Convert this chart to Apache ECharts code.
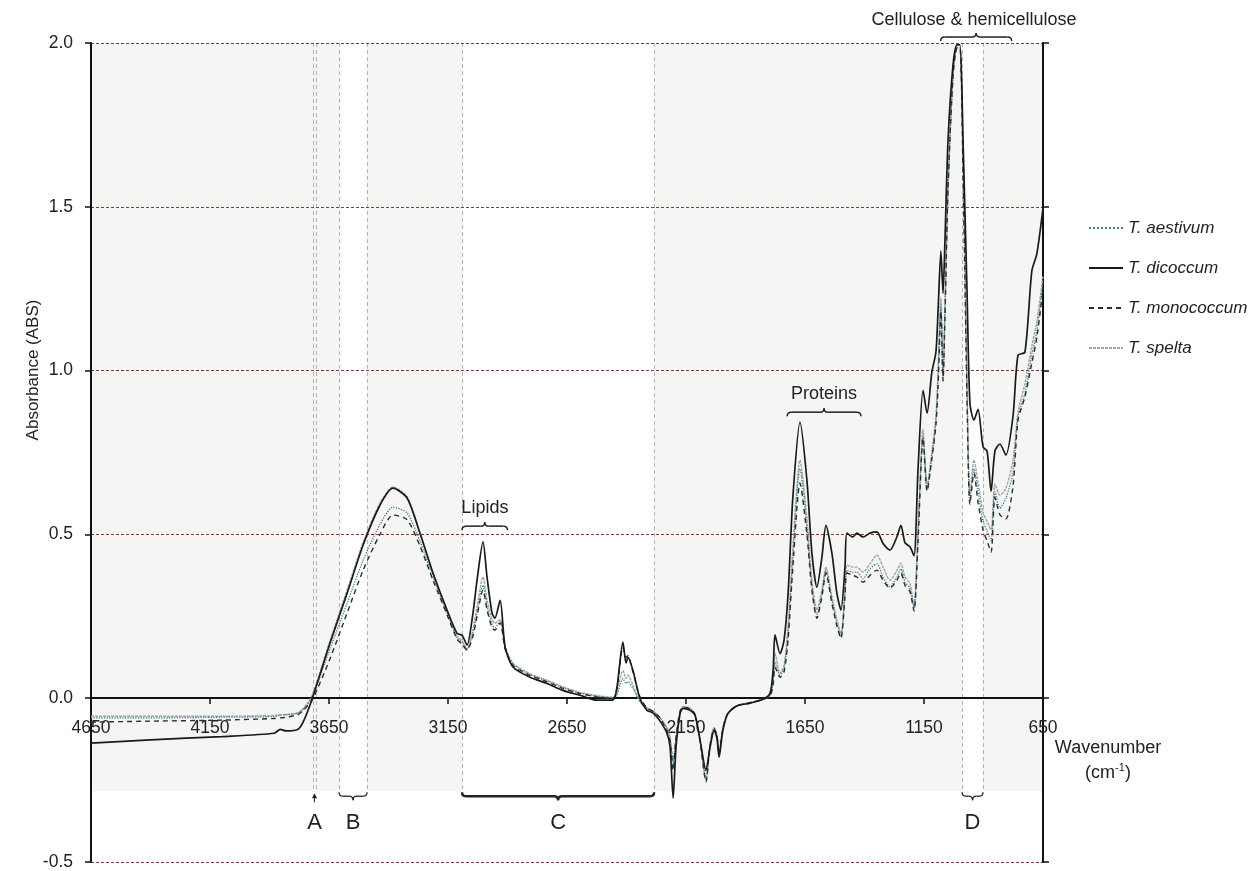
<!DOCTYPE html>
<html><head><meta charset="utf-8">
<script src="https://cdn.jsdelivr.net/npm/echarts@6/dist/echarts.min.js"></script>
<style>html,body{margin:0;padding:0;background:#fff}#c{width:1260px;height:871px}</style>
</head><body><div id="c"></div>
<script>
const wavenumbers = [4650,4400,4100,3880,3855,3830,3780,3755,3720,3646,3574,3507,3436,3381,3322,3268,3213,3154,3112,3091,3070,3045,3028,3003,2986,2965,2953,2931,2910,2877,2806,2734,2667,2596,2524,2457,2440,2415,2402,2394,2373,2344,2314,2289,2259,2230,2217,2204,2192,2175,2162,2133,2112,2091,2066,2049,2032,2020,2011,1995,1974,1936,1881,1827,1797,1784,1776,1755,1738,1721,1701,1671,1642,1621,1600,1579,1562,1537,1516,1499,1482,1474,1449,1432,1406,1377,1348,1322,1293,1264,1247,1230,1209,1192,1175,1154,1137,1117,1100,1091,1079,1070,1062,1049,1028,1011,999,986,969,957,940,923,902,885,868,852,831,806,776,755,726,697,676,650];
const dicoccum = [-0.137,-0.127,-0.117,-0.107,-0.095,-0.100,-0.095,-0.067,0.000,0.168,0.320,0.467,0.589,0.641,0.611,0.504,0.382,0.269,0.198,0.192,0.162,0.260,0.360,0.477,0.370,0.260,0.244,0.299,0.156,0.095,0.064,0.045,0.024,0.009,-0.006,-0.006,0.034,0.171,0.107,0.125,0.085,0.000,-0.037,-0.045,-0.070,-0.107,-0.149,-0.305,-0.150,-0.047,-0.031,-0.037,-0.052,-0.128,-0.220,-0.150,-0.098,-0.122,-0.180,-0.098,-0.047,-0.024,-0.015,-0.003,0.015,0.085,0.193,0.136,0.177,0.320,0.614,0.843,0.666,0.443,0.339,0.430,0.528,0.443,0.320,0.269,0.400,0.504,0.492,0.504,0.492,0.504,0.508,0.472,0.452,0.492,0.528,0.475,0.462,0.435,0.700,0.940,0.870,0.995,1.056,1.181,1.365,1.236,1.396,1.704,1.933,1.994,1.994,1.704,1.236,0.900,0.849,0.882,0.767,0.754,0.632,0.754,0.776,0.742,0.861,1.047,1.056,1.304,1.356,1.496];
const spelta = [-0.055,-0.055,-0.055,-0.053,-0.050,-0.050,-0.045,-0.030,0.010,0.175,0.330,0.475,0.595,0.645,0.615,0.505,0.380,0.265,0.190,0.175,0.150,0.210,0.280,0.370,0.300,0.240,0.229,0.240,0.160,0.107,0.075,0.055,0.035,0.018,0.008,0.003,0.020,0.085,0.060,0.070,0.040,-0.010,-0.030,-0.040,-0.060,-0.090,-0.120,-0.190,-0.120,-0.040,-0.025,-0.030,-0.050,-0.130,-0.250,-0.140,-0.090,-0.110,-0.160,-0.090,-0.045,-0.022,-0.013,-0.003,0.010,0.060,0.137,0.076,0.100,0.220,0.460,0.727,0.550,0.360,0.269,0.330,0.400,0.310,0.240,0.198,0.330,0.406,0.400,0.400,0.385,0.410,0.437,0.400,0.360,0.390,0.412,0.370,0.350,0.280,0.520,0.820,0.647,0.750,0.861,1.000,1.222,0.983,1.200,1.557,1.900,1.985,1.985,1.680,0.968,0.620,0.727,0.660,0.568,0.540,0.513,0.653,0.620,0.640,0.727,0.873,0.960,1.075,1.150,1.290];
const aestivum = [-0.060,-0.060,-0.058,-0.056,-0.052,-0.050,-0.045,-0.030,0.005,0.150,0.290,0.420,0.530,0.583,0.565,0.480,0.370,0.260,0.185,0.170,0.150,0.200,0.260,0.345,0.280,0.225,0.215,0.235,0.155,0.105,0.072,0.052,0.032,0.016,0.006,0.001,0.010,0.060,0.045,0.050,0.030,-0.010,-0.030,-0.040,-0.060,-0.095,-0.125,-0.200,-0.120,-0.040,-0.028,-0.032,-0.050,-0.130,-0.245,-0.145,-0.092,-0.115,-0.165,-0.092,-0.046,-0.023,-0.014,-0.004,0.008,0.050,0.110,0.070,0.090,0.200,0.430,0.700,0.520,0.340,0.255,0.320,0.390,0.300,0.230,0.190,0.320,0.390,0.385,0.385,0.365,0.395,0.410,0.370,0.340,0.370,0.395,0.355,0.335,0.275,0.500,0.800,0.640,0.740,0.845,0.980,1.200,0.975,1.180,1.555,1.900,1.985,1.985,1.640,0.930,0.600,0.700,0.630,0.540,0.510,0.480,0.630,0.580,0.610,0.690,0.860,0.930,1.050,1.120,1.270];
const monococcum = [-0.073,-0.070,-0.067,-0.062,-0.060,-0.058,-0.050,-0.035,-0.005,0.120,0.260,0.390,0.500,0.559,0.545,0.465,0.360,0.255,0.180,0.165,0.147,0.190,0.250,0.330,0.270,0.215,0.208,0.230,0.150,0.100,0.070,0.050,0.030,0.014,0.004,-0.002,0.030,0.156,0.125,0.130,0.080,0.005,-0.030,-0.040,-0.060,-0.100,-0.130,-0.220,-0.120,-0.040,-0.028,-0.033,-0.050,-0.130,-0.255,-0.145,-0.093,-0.115,-0.170,-0.093,-0.046,-0.023,-0.014,-0.004,0.006,0.040,0.095,0.064,0.080,0.180,0.400,0.656,0.500,0.330,0.244,0.310,0.382,0.290,0.220,0.183,0.310,0.382,0.375,0.370,0.354,0.375,0.391,0.360,0.336,0.360,0.382,0.345,0.325,0.266,0.480,0.794,0.632,0.730,0.834,0.950,1.180,0.968,1.160,1.557,1.900,1.985,1.985,1.597,0.900,0.592,0.687,0.598,0.513,0.480,0.446,0.614,0.560,0.547,0.647,0.849,0.920,1.023,1.100,1.249];
const xTicks = [4650,4150,3650,3150,2650,2150,1650,1150,650];
const seriesNames = ['T. aestivum','T. dicoccum','T. monococcum','T. spelta'];
const shadedBands = [[4650,3608],[3490,3091],[2284,990],[902,650]];
const bandEdges = [3717,3705,3608,3490,3091,2284,990,902];
const shadeBottom = -0.284;

const FONT = '"Liberation Sans", Arial, sans-serif';
const pair = (ys) => wavenumbers.map((w, i) => [w, ys[i]]);
const chart = echarts.init(document.getElementById('c'), null, {renderer: 'canvas'});

const mkLine = (name, ys, color, width, type, z) => ({
  name, type: 'line', data: pair(ys), symbol: 'none', showSymbol: false,
  smooth: 0.25, z, lineStyle: {color, width, type}, itemStyle: {color},
  emphasis: {disabled: true}, animation: false
});

const option = {
  animation: false,
  backgroundColor: '#fff',
  grid: {left: 91, right: 217, top: 43, bottom: 9},
  xAxis: {
    type: 'value', min: 650, max: 4650, inverse: true, position: 'bottom', offset: -164, z: 4,
    axisLine: {show: true, onZero: false, lineStyle: {color: '#111', width: 2}},
    axisTick: {show: true, customValues: xTicks, length: 6, lineStyle: {color: '#111', width: 1.5}},
    axisLabel: {customValues: xTicks, margin: 21, fontSize: 17.5, color: '#222', fontFamily: FONT, formatter: v => String(v)},
    splitLine: {show: false}
  },
  yAxis: [{
    type: 'value', min: -0.5, max: 2, interval: 0.5, position: 'left', z: 3,
    axisLine: {show: true, onZero: false, lineStyle: {color: '#111', width: 2}},
    axisTick: {show: true, length: 6, lineStyle: {color: '#111', width: 1.5}},
    axisLabel: {margin: 18, fontSize: 17.5, color: '#222', fontFamily: FONT, formatter: v => v.toFixed(1)},
    splitLine: {show: true, lineStyle: {color: '#7a3f33', width: 1, type: [3, 2]}}
  }, {
    type: 'value', min: -0.5, max: 2, interval: 0.5, position: 'right', z: 3,
    axisLine: {show: true, onZero: false, lineStyle: {color: '#111', width: 2}},
    axisTick: {show: true, length: 6, lineStyle: {color: '#111', width: 1.5}},
    axisLabel: {show: false}, splitLine: {show: false}
  }],
  legend: {
    orient: 'vertical', left: 1083, top: 213, itemWidth: 34, itemHeight: 14, itemGap: 20,
    data: seriesNames, selectedMode: false,
    itemStyle: {opacity: 0},
    textStyle: {fontSize: 17, fontStyle: 'italic', color: '#222', fontFamily: FONT, lineHeight: 20}
  },
  series: [
    {
      name: 'bands', type: 'line', data: [], z: 1, silent: true,
      markArea: {
        silent: true, z: 1, itemStyle: {color: '#f5f5f4'},
        data: shadedBands.map(b => [{coord: [b[0], 2]}, {coord: [b[1], shadeBottom]}])
      },
      markLine: {
        silent: true, z: 2, symbol: ['none', 'none'], label: {show: false},
        lineStyle: {color: '#b5b5b5', width: 1, type: [4, 3]},
        data: bandEdges.map(x => [{coord: [x, 2]}, {coord: [x, shadeBottom]}])
      }
    },
    mkLine('T. spelta', spelta, '#a3a3a3', 1.4, [3, 1], 10),
    mkLine('T. aestivum', aestivum, '#3f7f8f', 1.3, 'dotted', 11),
    mkLine('T. monococcum', monococcum, '#2d2d2d', 1.4, [5, 4], 12),
    mkLine('T. dicoccum', dicoccum, '#1a1a1a', 1.7, 'solid', 13)
  ]
};
chart.setOption(option);

const P = (x, y) => chart.convertToPixel({xAxisIndex: 0, yAxisIndex: 0}, [x, y]);
const INK = '#222';
function brace(w1, w2, v, dir, h, lw) {
  const a = P(w1, v), b = P(w2, v);
  const y0 = a[1], xl = Math.min(a[0], b[0]), xr = Math.max(a[0], b[0]), xm = (xl + xr) / 2, d = dir * h;
  const st = {stroke: INK, lineWidth: lw, fill: 'none'};
  const bz = (x1, y1, cx, cy, x2, y2) => ({type: 'bezierCurve', silent: true, z: 100, shape: {x1, y1, cpx1: cx, cpy1: cy, x2, y2}, style: st});
  const ln = (x1, y1, x2, y2) => ({type: 'line', silent: true, z: 100, shape: {x1, y1, x2, y2}, style: st});
  return [
    bz(xl, y0, xl, y0 + d, xl + h, y0 + d),
    ln(xl + h, y0 + d, xm - h, y0 + d),
    bz(xm - h, y0 + d, xm, y0 + d, xm, y0 + 2 * d),
    bz(xm, y0 + 2 * d, xm, y0 + d, xm + h, y0 + d),
    ln(xm + h, y0 + d, xr - h, y0 + d),
    bz(xr - h, y0 + d, xr, y0 + d, xr, y0)
  ];
}
function txt(w, v, text, size) {
  const p = P(w, v);
  return {type: 'text', x: p[0], y: p[1], silent: true, z: 100,
    style: {text, font: `${size}px ${FONT}`, fill: INK, align: 'center', verticalAlign: 'middle',
            textAlign: 'center', textVerticalAlign: 'middle'}};
}
const aTip = P(3711, -0.29), aTail = P(3711, -0.318);
const graphics = [].concat(
  brace(3091, 2900, 0.513, -1, 4, 1.5),
  [txt(2995, 0.58, 'Lipids', 18)],
  brace(1725, 1415, 0.861, -1, 4, 1.5),
  [txt(1570, 0.93, 'Proteins', 18)],
  brace(1080, 782, 2.006, -1, 4, 1.5),
  [txt(940, 2.07, 'Cellulose & hemicellulose', 18)],
  brace(3608, 3490, -0.287, 1, 4, 1.3),
  brace(3091, 2284, -0.287, 1, 4, 2.4),
  brace(990, 902, -0.287, 1, 4, 1.3),
  [
    {type: 'line', silent: true, z: 100, shape: {x1: aTail[0], y1: aTail[1], x2: aTip[0], y2: aTip[1] + 3}, style: {stroke: INK, lineWidth: 1}},
    {type: 'polygon', silent: true, z: 100, shape: {points: [[aTip[0], aTip[1]], [aTip[0] - 2.5, aTip[1] + 5], [aTip[0] + 2.5, aTip[1] + 5]]}, style: {fill: INK}},
    txt(3711, -0.382, 'A', 22),
    txt(3549, -0.382, 'B', 22),
    txt(2687, -0.382, 'C', 22),
    txt(946, -0.382, 'D', 22),
    {type: 'text', x: 33, y: 370, rotation: Math.PI / 2, silent: true,
     style: {text: 'Absorbance (ABS)', font: `17px ${FONT}`, fill: INK, align: 'center', verticalAlign: 'middle', textAlign: 'center', textVerticalAlign: 'middle'}},
    {type: 'text', x: 1108, y: 748, silent: true,
     style: {text: 'Wavenumber', font: `18px ${FONT}`, fill: INK, align: 'center', verticalAlign: 'middle', textAlign: 'center', textVerticalAlign: 'middle'}},
    {type: 'text', x: 1108, y: 773, silent: true,
     style: {text: '(cm{s|-1})', font: `18px ${FONT}`, fill: INK, align: 'center', verticalAlign: 'middle', textAlign: 'center', textVerticalAlign: 'middle',
             rich: {s: {fontSize: 11, fontFamily: FONT, fill: INK, padding: [0, 0, 10, 0]}}}}
  ]
);
chart.setOption({graphic: graphics});
</script>
</body></html>
